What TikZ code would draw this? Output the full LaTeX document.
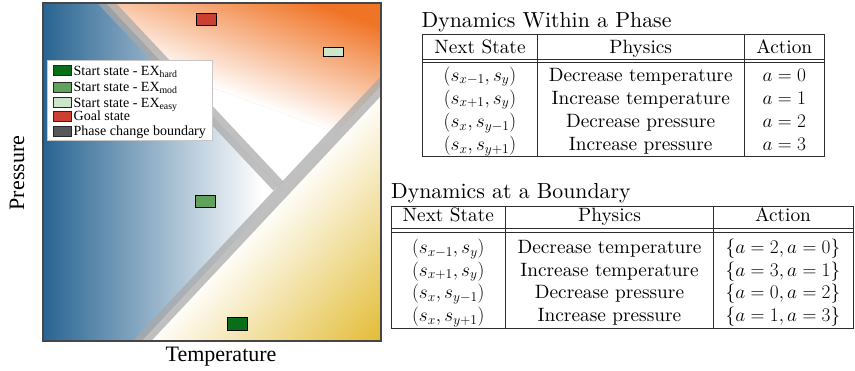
\documentclass[tikz,border=0pt]{standalone}
\usepackage{fix-cm}
\usepackage{fontspec}
\newfontfamily\tnr{Liberation Serif}
\newfontfamily\lmten{lmroman10-regular}[Extension=.otf]
\usetikzlibrary{calc}
\definecolor{blueA}{RGB}{40,100,146}
\definecolor{orangeA}{RGB}{240,116,38}
\definecolor{yellowA}{RGB}{226,188,52}
\definecolor{bandgray}{RGB}{168,168,168}
\definecolor{hardG}{RGB}{8,110,24}
\definecolor{modG}{RGB}{96,162,92}
\definecolor{easyG}{RGB}{204,230,204}
\definecolor{goalR}{RGB}{204,64,50}
\definecolor{bndG}{RGB}{88,88,88}
\definecolor{frameC}{RGB}{70,70,70}
\definecolor{tabC}{RGB}{45,45,45}
\begin{document}
\begin{tikzpicture}[x=1pt,y=-1pt,
  marker/.style={draw=black, line width=1.1pt, minimum width=20pt, minimum height=12pt, inner sep=0pt},
  patch/.style={draw=black!85, line width=0.9pt, minimum width=18pt, minimum height=10pt, inner sep=0pt},
  legtext/.style={font=\tnr\fontsize{14}{15}\selectfont, anchor=base west, inner sep=0pt},
  axlabel/.style={font=\tnr\fontsize{22}{24}\selectfont, inner sep=0pt},
  tabtext/.style={font=\lmten\fontsize{19.3}{23}\selectfont, anchor=base, inner sep=0pt},
  titletext/.style={font=\lmten\fontsize{21.8}{25}\selectfont, anchor=base west, inner sep=0pt},
  tabline/.style={draw=tabC, line width=1pt},
  band/.style={draw=bandgray, line width=13.5pt, opacity=0.72}
]
\useasboundingbox[fill=white] (0,0) rectangle (855,370);

% blue phase
\begin{scope}
\clip (43,3) -- (106,3) -- (283,191) -- (142,341) -- (43,341) -- cycle;
\shade[left color=blueA, right color=white] (43,3) rectangle (262,341);
\end{scope}
% orange phase
\begin{scope}
\clip (106,3) -- (381,3) -- (381,86) -- (283,191) -- cycle;
\fill[orangeA] (106,3) -- (381,3) -- (381,86) -- (283,191) -- cycle;
\shade[transform canvas={rotate around={-20:(277,111.4)}}, top color=orangeA, bottom color=white] (-300,-3.6) rectangle (800,111.4);
\fill[white, transform canvas={rotate around={-20:(277,111.4)}}] (-300,111.3) rectangle (800,400);
\end{scope}
% yellow phase
\begin{scope}
\clip (142,341) -- (381,86) -- (381,341) -- cycle;
\shade[transform canvas={rotate around={46.9:(142,341)}}, top color=white, bottom color=yellowA] (42,341) rectangle (600,516);
\end{scope}
% phase boundaries
\begin{scope}
\clip (43,3) rectangle (381,341);
\draw[band] (131.7,352) -- (391.3,75);
\draw[band] (95.7,-8.6) -- (278.2,185.9);
\end{scope}
\draw[frameC, line width=1.4pt] (43,3) rectangle (381,341);

% states
\node[marker, fill=goalR] (goal) at (206.5,19.5) {};
\node[marker, fill=easyG, minimum height=9pt] (easy) at (333.5,52) {};
\node[marker, fill=modG] (mod) at (205.5,201.5) {};
\node[marker, fill=hardG, minimum height=13pt] (hard) at (237.5,324) {};

% legend
\node[draw=black!22, fill=white, line width=0.8pt, minimum width=165pt, minimum height=80pt, anchor=north west, inner sep=0pt] (legend) at (47,60) {};
\node[patch, fill=hardG] (p1) at (62,70.5) {};
\node[patch, fill=modG] (p2) at (62,87) {};
\node[patch, fill=easyG] (p3) at (62,102.3) {};
\node[patch, fill=goalR] (p4) at (62,116.5) {};
\node[patch, fill=bndG] (p5) at (62,131) {};
\node[legtext] (l1) at (73.5,75) {Start state - EX\textsubscript{hard}};
\node[legtext] (l2) at (73.5,91.5) {Start state - EX\textsubscript{mod}};
\node[legtext] (l3) at (73.5,107) {Start state - EX\textsubscript{easy}};
\node[legtext] (l4) at (73.5,120.5) {Goal state};
\node[legtext] (l5) at (73.5,135) {Phase change boundary};

% axis labels
\node[axlabel, rotate=90] (ylab) at (17,173) {Pressure};
\node[axlabel] (xlab) at (221,357) {Temperature};

% table 1
\node[titletext] (t1title) at (421.5,27.3) {Dynamics Within a Phase};
\draw[tabline] (422.7,34.3) rectangle (824.3,156.7);
\draw[tabline] (422.7,59.3) -- (824.3,59.3);
\draw[tabline] (422.7,62.7) -- (824.3,62.7);
\draw[tabline] (537,34.3) -- (537,156.7);
\draw[tabline] (744.3,34.3) -- (744.3,156.7);
\node[tabtext] (h11) at (480,53.3) {Next State};
\node[tabtext] (h12) at (640.7,53.3) {Physics};
\node[tabtext] (h13) at (784.3,53.3) {Action};
\node[tabtext] (a11) at (480,81) {$(s_{x-1},s_y)$};
\node[tabtext] (a12) at (640.7,81) {Decrease temperature};
\node[tabtext] (a13) at (784.3,81) {$a=0$};
\node[tabtext] (a21) at (480,104) {$(s_{x+1},s_y)$};
\node[tabtext] (a22) at (640.7,104) {Increase temperature};
\node[tabtext] (a23) at (784.3,104) {$a=1$};
\node[tabtext] (a31) at (480,127.3) {$(s_x,s_{y-1})$};
\node[tabtext] (a32) at (640.7,127.3) {Decrease pressure};
\node[tabtext] (a33) at (784.3,127.3) {$a=2$};
\node[tabtext] (a41) at (480,150.5) {$(s_x,s_{y+1})$};
\node[tabtext] (a42) at (640.7,150.5) {Increase pressure};
\node[tabtext] (a43) at (784.3,150.5) {$a=3$};

% table 2
\node[titletext] (t2title) at (391,198.3) {Dynamics at a Boundary};
\draw[tabline] (391,206.5) rectangle (853,328);
\draw[tabline] (391,228.3) -- (853,228.3);
\draw[tabline] (391,232.3) -- (853,232.3);
\draw[tabline] (505.7,206.5) -- (505.7,328);
\draw[tabline] (713.3,206.5) -- (713.3,328);
\node[tabtext] (h21) at (448.3,221.7) {Next State};
\node[tabtext] (h22) at (609.5,221.7) {Physics};
\node[tabtext] (h23) at (783,221.7) {Action};
\node[tabtext] (b11) at (448.3,253.3) {$(s_{x-1},s_y)$};
\node[tabtext] (b12) at (609.5,253.3) {Decrease temperature};
\node[tabtext] (b13) at (783,253.3) {$\{a=2,a=0\}$};
\node[tabtext] (b21) at (448.3,276) {$(s_{x+1},s_y)$};
\node[tabtext] (b22) at (609.5,276) {Increase temperature};
\node[tabtext] (b23) at (783,276) {$\{a=3,a=1\}$};
\node[tabtext] (b31) at (448.3,298.7) {$(s_x,s_{y-1})$};
\node[tabtext] (b32) at (609.5,298.7) {Decrease pressure};
\node[tabtext] (b33) at (783,298.7) {$\{a=0,a=2\}$};
\node[tabtext] (b41) at (448.3,321.5) {$(s_x,s_{y+1})$};
\node[tabtext] (b42) at (609.5,321.5) {Increase pressure};
\node[tabtext] (b43) at (783,321.5) {$\{a=1,a=3\}$};
\end{tikzpicture}
\end{document}
